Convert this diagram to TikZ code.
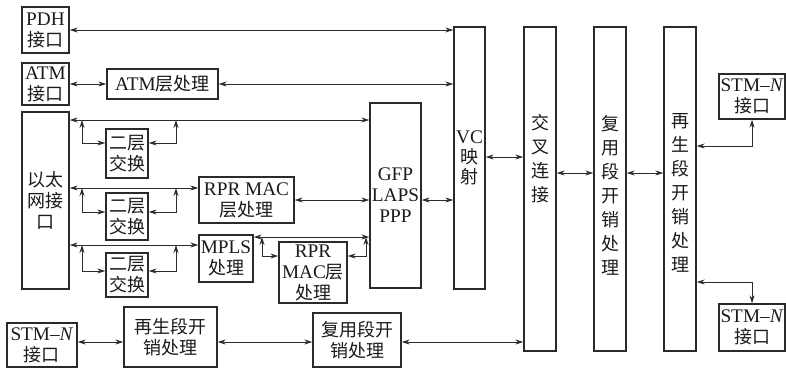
\documentclass[tikz,border=0pt]{standalone}
\usepackage{fontspec}
\setmainfont[Scale=1.07]{Liberation Serif}
\newfontfamily\cjk{Noto Sans CJK SC}
\usetikzlibrary{arrows.meta}
\newcommand\zh[1]{{\cjk #1}}
\definecolor{boxc}{HTML}{2A2A2A}
\definecolor{linec}{HTML}{2C2C2C}
\definecolor{txtc}{HTML}{1A1A1A}
\begin{document}
\begin{tikzpicture}[x=1pt,y=-1pt,
  box/.style={draw=boxc, line width=1.3pt, inner sep=0pt, align=center, text=txtc,
    font=\fontsize{18}{21}\selectfont},
  vtext/.style={inner sep=0pt, align=center, text=txtc, font=\fontsize{18}{24}\selectfont},
  link/.style={line width=1pt, draw=linec,
    {Stealth[length=8pt,width=5pt]}-{Stealth[length=8pt,width=5pt]}},
]
\useasboundingbox (0,0) rectangle (786,368);
% left column
\node[box, minimum width=47pt, minimum height=46pt] (pdh) at (45.5,30) {PDH\\\zh{接口}};
\node[box, minimum width=47pt, minimum height=42pt] (atmif) at (45.5,84) {ATM\\\zh{接口}};
\node[box, minimum width=111pt, minimum height=30pt] (atmp) at (162.5,84) {ATM\zh{层处理}};
\node[box, minimum width=47pt, minimum height=177pt] (eth) at (45.5,200.5) {\zh{以太}\\\zh{网接}\\\zh{口}};
\node[box, minimum width=42pt, minimum height=49pt] (sw1) at (127,153.5) {\zh{二层}\\\zh{交换}};
\node[box, minimum width=42pt, minimum height=47pt] (sw2) at (127,216.5) {\zh{二层}\\\zh{交换}};
\node[box, minimum width=42pt, minimum height=44pt] (sw3) at (127,275) {\zh{二层}\\\zh{交换}};
\node[box, minimum width=95pt, minimum height=46pt] (rpr1) at (246.5,200) {RPR MAC\\\zh{层处理}};
\node[box, minimum width=54pt, minimum height=47pt] (mpls) at (226,258.5) {MPLS\\\zh{处理}};
\node[box, minimum width=68pt, minimum height=61pt] (rpr2) at (313,272.5) {RPR\\MAC\zh{层}\\\zh{处理}};
\node[box, minimum width=51pt, minimum height=185pt] (gfp) at (395.5,195.5) {GFP\\LAPS\\PPP};
% tall columns
\node[box, minimum width=31pt, minimum height=262pt] (vc) at (469.5,158) {};
\node[vtext, font=\fontsize{18}{20}\selectfont] (vct) at (469.5,158) {VC\\\zh{映}\\\zh{射}};
\node[box, minimum width=32pt, minimum height=324pt] (cross) at (540,189) {};
\node[vtext] (crosst) at (540,159) {\zh{交}\\\zh{叉}\\\zh{连}\\\zh{接}};
\node[box, minimum width=32pt, minimum height=324pt] (msoh) at (610,189) {};
\node[vtext] (msoht) at (610,195) {\zh{复}\\\zh{用}\\\zh{段}\\\zh{开}\\\zh{销}\\\zh{处}\\\zh{理}};
\node[box, minimum width=32pt, minimum height=324pt] (rsoh) at (680,189) {};
\node[vtext] (rsoht) at (680,193) {\zh{再}\\\zh{生}\\\zh{段}\\\zh{开}\\\zh{销}\\\zh{处}\\\zh{理}};
% right STM boxes
\node[box, minimum width=66pt, minimum height=45pt] (stm1) at (752,96.5) {STM\textendash\textit{N}\\\zh{接口}};
\node[box, minimum width=66pt, minimum height=47pt] (stm2) at (752,327.5) {STM\textendash\textit{N}\\\zh{接口}};
% bottom row
\node[box, minimum width=70pt, minimum height=44pt] (stm3) at (42,345) {STM\textendash\textit{N}\\\zh{接口}};
\node[box, minimum width=93pt, minimum height=60pt] (rsoh2) at (170.5,337) {\zh{再生段开}\\\zh{销处理}};
\node[box, minimum width=88pt, minimum height=54pt] (msoh2) at (357,340) {\zh{复用段开}\\\zh{销处理}};

% connectors top
\draw[link] (pdh.east) -- (pdh.east -| vc.west);
\draw[link] (atmif.east) -- (atmp.west);
\draw[link] (atmp.east) -- (atmp.east -| vc.west);
% ethernet line 1
\coordinate (l1a) at (82,120);
\coordinate (l1b) at (176,120);
\draw[link] (eth.east |- l1a) -- (gfp.west |- l1a);
\draw[link] (l1a) -- (82,143) -- (sw1.west |- 0,143);
\draw[link] (sw1.east |- 0,143) -- (176,143) -- (l1b);
% ethernet line 2
\coordinate (l2a) at (82,188);
\coordinate (l2b) at (176,188);
\draw[link] (eth.east |- l2a) -- (rpr1.west |- l2a);
\draw[link] (l2a) -- (82,212) -- (sw2.west |- 0,212);
\draw[link] (sw2.east |- 0,212) -- (176,212) -- (l2b);
% ethernet line 3
\coordinate (l3a) at (82,245);
\coordinate (l3b) at (176,245);
\draw[link] (eth.east |- l3a) -- (mpls.west |- l3a);
\draw[link] (l3a) -- (82,271) -- (sw3.west |- 0,271);
\draw[link] (sw3.east |- 0,271) -- (176,271) -- (l3b);
% RPR / MPLS to GFP
\draw[link] (rpr1.east) -- (rpr1.east -| gfp.west);
\coordinate (l4a) at (262,237);
\coordinate (l4b) at (366,237);
\draw[link] (mpls.east |- l4a) -- (gfp.west |- l4a);
\draw[link] (l4a) -- (262,256) -- (rpr2.west |- 0,256);
\draw[link] (rpr2.east |- 0,256) -- (366,256) -- (l4b);
% chain
\draw[link] (gfp.east |- 0,200) -- (vc.west |- 0,200);
\draw[link] (vc.east |- 0,157) -- (cross.west |- 0,157);
\draw[link] (cross.east |- 0,173) -- (msoh.west |- 0,173);
\draw[link] (msoh.east |- 0,173) -- (rsoh.west |- 0,173);
\draw[link] (rsoh.east |- 0,146) -- (stm1.south |- 0,146) -- (stm1.south);
\draw[link] (rsoh.east |- 0,282) -- (stm2.north |- 0,282) -- (stm2.north);
% bottom row
\draw[link] (stm3.east |- 0,342) -- (rsoh2.west |- 0,342);
\draw[link] (rsoh2.east |- 0,342) -- (msoh2.west |- 0,342);
\draw[link] (msoh2.east |- 0,342) -- (cross.west |- 0,342);
\end{tikzpicture}
\end{document}
